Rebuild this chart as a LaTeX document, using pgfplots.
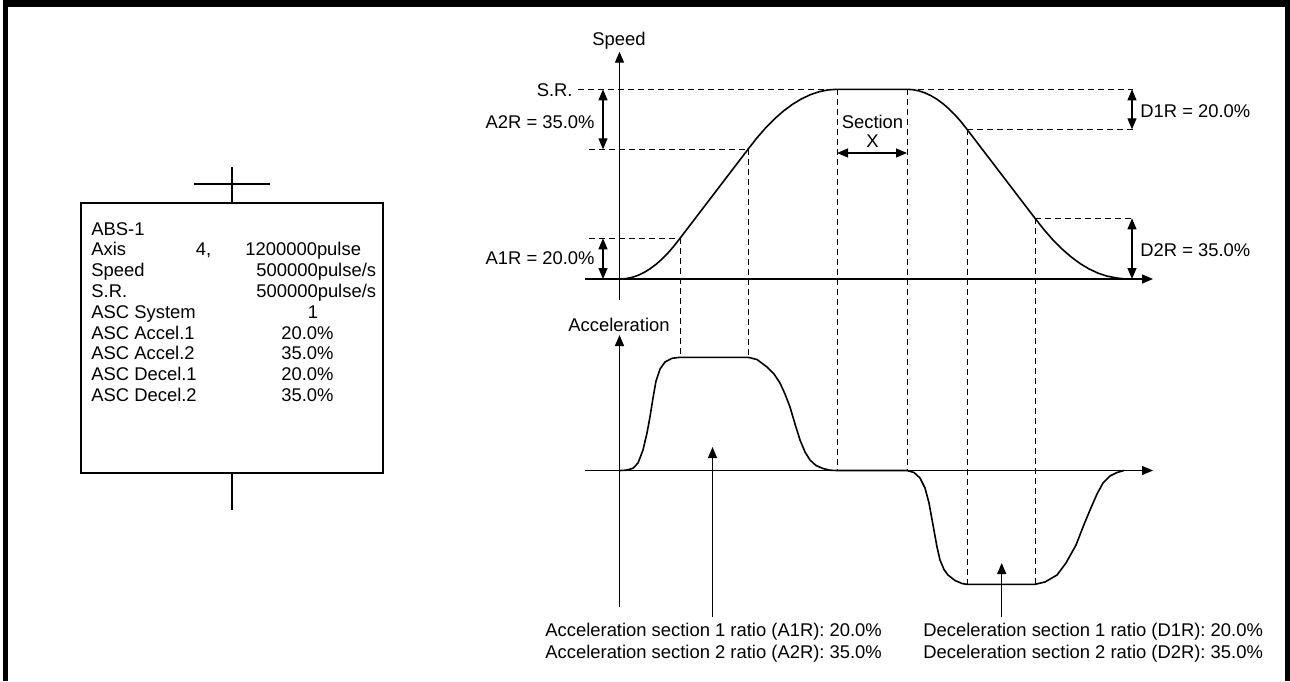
\documentclass[border=0pt]{standalone}
\usepackage{pgfplots}
\pgfplotsset{compat=1.18}
\usepackage{fontspec}
\setmainfont{Liberation Sans}
\usetikzlibrary{arrows.meta}

\begin{document}
\fontsize{9.2}{11}\selectfont
\begin{tikzpicture}[font=\fontsize{9.2}{11}\selectfont,
  dsh/.style={line width=0.5pt, dash pattern=on 3pt off 2pt},
  ax/.style={line width=0.7pt},
  arr/.style={-{Triangle[length=5.5pt,width=4.5pt]}, line width=0.6pt},
  darr/.style={{Triangle[length=5.5pt,width=4.5pt]}-{Triangle[length=5.5pt,width=4.5pt]}, line width=0.6pt}]
\begin{axis}[scale only axis, width=645pt, height=340.5pt,
  xmin=0, xmax=1290, ymin=0, ymax=681, y dir=reverse,
  hide axis, clip=false]

% frame
\fill[black] (axis cs:3,0) rectangle (axis cs:1290,7);
\fill[black] (axis cs:3,0) rectangle (axis cs:7.5,681);
\fill[black] (axis cs:1285,0) rectangle (axis cs:1290,681);

% left program box
\draw[line width=1pt] (axis cs:81,203) rectangle (axis cs:383,473);
\draw[line width=1pt] (axis cs:232,167) -- (axis cs:232,203);
\draw[line width=1pt] (axis cs:194,184) -- (axis cs:270,184);
\draw[line width=1pt] (axis cs:232,473) -- (axis cs:232,510);
\node[anchor=base west, inner sep=0] at (axis cs:91,235) {ABS-1};
\node[anchor=base west, inner sep=0] at (axis cs:91,255.8) {Axis};
\node[anchor=base east, inner sep=0] at (axis cs:211.7,255.8) {4,};
\node[anchor=base west, inner sep=0] at (axis cs:245,255.8) {1200000pulse};
\node[anchor=base west, inner sep=0] at (axis cs:91,276.6) {Speed};
\node[anchor=base west, inner sep=0] at (axis cs:256,276.6) {500000pulse/s};
\node[anchor=base west, inner sep=0] at (axis cs:91,297.4) {S.R.};
\node[anchor=base west, inner sep=0] at (axis cs:256,297.4) {500000pulse/s};
\node[anchor=base west, inner sep=0] at (axis cs:91,318.2) {ASC System};
\node[anchor=base, inner sep=0] at (axis cs:313,318.2) {1};
\node[anchor=base west, inner sep=0] at (axis cs:91,339) {ASC Accel.1};
\node[anchor=base, inner sep=0] at (axis cs:307.5,339) {20.0\%};
\node[anchor=base west, inner sep=0] at (axis cs:91,359.8) {ASC Accel.2};
\node[anchor=base, inner sep=0] at (axis cs:307.5,359.8) {35.0\%};
\node[anchor=base west, inner sep=0] at (axis cs:91,380.6) {ASC Decel.1};
\node[anchor=base, inner sep=0] at (axis cs:307.5,380.6) {20.0\%};
\node[anchor=base west, inner sep=0] at (axis cs:91,401.4) {ASC Decel.2};
\node[anchor=base, inner sep=0] at (axis cs:307.5,401.4) {35.0\%};

% speed axes
\draw[ax, -{Triangle[length=5.5pt,width=4.5pt]}] (axis cs:619.5,300) -- (axis cs:619.5,51.7);
\draw[ax, -{Triangle[length=5.5pt,width=4.5pt]}] (axis cs:585,279) -- (axis cs:1153,279);
\node[anchor=base, inner sep=0] at (axis cs:619,45) {Speed};

% accel axes
\draw[ax, -{Triangle[length=5.5pt,width=4.5pt]}] (axis cs:619.5,607) -- (axis cs:619.5,335);
\draw[ax, -{Triangle[length=5.5pt,width=4.5pt]}] (axis cs:585,470.5) -- (axis cs:1153,470.5);
\node[anchor=base, inner sep=0] at (axis cs:619,331) {Acceleration};

% dashed guides (horizontal)
\draw[dsh] (axis cs:578,89.3) -- (axis cs:1133,89.3);
\draw[dsh] (axis cs:589,149.3) -- (axis cs:748,149.3);
\draw[dsh] (axis cs:589,238.3) -- (axis cs:680,238.3);
\draw[dsh] (axis cs:967,129.3) -- (axis cs:1133,129.3);
\draw[dsh] (axis cs:1035,218.3) -- (axis cs:1133,218.3);
% dashed guides (vertical)
\draw[dsh] (axis cs:680,238.3) -- (axis cs:680,357.3);
\draw[dsh] (axis cs:748,149.3) -- (axis cs:748,357.3);
\draw[dsh] (axis cs:837,89.3) -- (axis cs:837,470.5);
\draw[dsh] (axis cs:907,89.3) -- (axis cs:907,470.5);
\draw[dsh] (axis cs:967,129.3) -- (axis cs:967,584.3);
\draw[dsh] (axis cs:1035,218.3) -- (axis cs:1035,584.3);

% speed curve
\addplot[black, line width=0.8pt] coordinates {
(620,279) (626,278.59) (632,277.37) (638,275.34) (644,272.49) (650,268.83)
(656,264.35) (662,259.06) (668,252.95) (674,246.03) (680,238.3)
(748,149.3)
(756.9,137.9) (765.8,127.7) (774.7,118.7) (783.6,110.9) (792.5,104.3)
(801.4,98.9) (810.3,94.7) (819.2,91.7) (828.1,89.9) (837,89.3)
(907,89.3)
(913,89.7) (919,90.9) (925,92.9) (931,95.7) (937,99.3) (943,103.7)
(949,108.9) (955,114.9) (961,121.7) (967,129.3)
(1035,218.3)
(1044,229.7) (1053,240.0) (1062,249.0) (1071,256.8) (1080,263.5)
(1089,268.9) (1098,273.1) (1107,276.1) (1116,277.9) (1125,279)
};

% acceleration curve
\addplot[black, line width=0.8pt] coordinates {
(620,470.5) (626,470.2) (633,468.3) (638,463) (643,450) (647,433) (650,416.7)
(653,398) (656,381) (660,369) (665,362) (672,358.3) (680,357.3)
(748,357.3) (757,359.5) (767,367) (774,374) (780,383) (785,394) (790,407)
(795,424) (800,440) (805,452) (810,460) (816,465.5) (823,468.5) (830,470.2)
(837,470.5) (907,470.5)
(914,472.5) (920,478) (925,488) (929,503) (933,525) (937,547) (940,560)
(944,569.5) (948,575) (955,580.5) (962,583.5) (967,584.3)
(1035,584.3) (1045,582) (1057,575) (1066,563) (1076,545) (1083,527)
(1090,510) (1097,494) (1103,483) (1110,476) (1117,472.5) (1124,470.5)
};

% dimension arrows
\draw[darr] (axis cs:603,89.3) -- (axis cs:603,149.3);
\draw[darr] (axis cs:603,238.3) -- (axis cs:603,279);
\draw[darr] (axis cs:1132,89.3) -- (axis cs:1132,129.3);
\draw[darr] (axis cs:1132,218.3) -- (axis cs:1132,279);
\draw[darr] (axis cs:837,153) -- (axis cs:907,153);
\draw[arr] (axis cs:712.5,617) -- (axis cs:712.5,447);
\draw[arr] (axis cs:1001.7,617) -- (axis cs:1001.7,563);

% labels
\node[anchor=base east, inner sep=0] at (axis cs:573,96) {S.R.};
\node[anchor=base east, inner sep=0] at (axis cs:595,128.3) {A2R = 35.0\%};
\node[anchor=base east, inner sep=0] at (axis cs:595,264.6) {A1R = 20.0\%};
\node[anchor=base, inner sep=0] at (axis cs:872.5,128.3) {Section};
\node[anchor=base, inner sep=0] at (axis cs:872.5,147.3) {X};
\node[anchor=base west, inner sep=0] at (axis cs:1140,117.7) {D1R = 20.0\%};
\node[anchor=base west, inner sep=0] at (axis cs:1140,256.7) {D2R = 35.0\%};
\node[anchor=base west, inner sep=0] at (axis cs:545,636.7) {Acceleration section 1 ratio (A1R): 20.0\%};
\node[anchor=base west, inner sep=0] at (axis cs:545,658.3) {Acceleration section 2 ratio (A2R): 35.0\%};
\node[anchor=base west, inner sep=0] at (axis cs:923,636.7) {Deceleration section 1 ratio (D1R): 20.0\%};
\node[anchor=base west, inner sep=0] at (axis cs:923,658.3) {Deceleration section 2 ratio (D2R): 35.0\%};
\end{axis}
\pgfresetboundingbox
\useasboundingbox (current axis.south west) rectangle (current axis.north east);
\end{tikzpicture}
\end{document}
